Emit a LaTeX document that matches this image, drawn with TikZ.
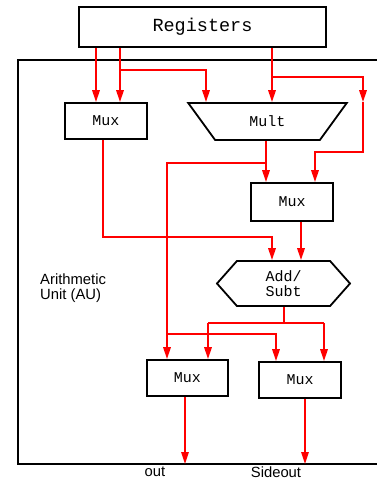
\documentclass[tikz,border=0pt]{standalone}
\usepackage{fontspec}
\newfontfamily\monof{Liberation Mono}
\newfontfamily\sansf{Liberation Sans}
\usetikzlibrary{arrows.meta,shapes.geometric,shapes.symbols}
\tikzset{
  unit/.style={draw=black, line width=1.8pt, fill=white, inner sep=0pt,
    font=\monof\fontsize{15}{15}\selectfont},
  muxbox/.style={unit, rectangle, minimum width=82pt, minimum height=36pt},
  wire/.style={draw=red, line width=1.6pt},
  feed/.style={wire, -{Triangle[length=12pt,width=7.5pt]}},
  frame/.style={draw=black, line width=1.8pt},
  lbl/.style={font=\sansf\fontsize{14.8}{14.5}\selectfont, inner sep=0pt}
}
\begin{document}
\begin{tikzpicture}[x=1pt,y=-1pt]
\useasboundingbox (0,0) rectangle (376,482);

% enclosing frame of the arithmetic unit (open on the right)
\draw[frame] (377,60) -- (18,60) -- (18,464) -- (377,464);

% blocks
\node[unit, rectangle, minimum width=247pt, minimum height=40pt,
      font=\monof\fontsize{18.5}{18.5}\selectfont] (reg) at (202.5,27) {Registers};
\node[muxbox] (mux1) at (106,121) {Mux};
\node[unit, trapezium, shape border rotate=180, trapezium left angle=50,
      trapezium right angle=50, trapezium stretches=true,
      minimum width=159pt, minimum height=37pt] (mult) at (267.5,121.5) {Mult};
\node[muxbox, minimum height=38pt] (mux2) at (292,202) {Mux};
\node[unit, signal, signal to=west and east, signal pointer angle=97,
      minimum width=133pt, minimum height=45pt, align=center] (add) at (283.5,283.5) {Add/\\Subt};
\node[muxbox, minimum width=81pt] (mux3) at (187.5,378) {Mux};
\node[muxbox] (mux4) at (300,380) {Mux};

% labels
\node[lbl, anchor=west, align=left] (au) at (40,288) {Arithmetic\\Unit (AU)};
\node[lbl] (outl) at (155,472) {out};
\node[lbl] (sidel) at (276,472) {Sideout};

% wire columns and rows
\coordinate (xa) at (96,0);   \coordinate (xb) at (120,0);
\coordinate (xc) at (206,0);  \coordinate (xd) at (272,0);
\coordinate (xe) at (363,0);  \coordinate (xf) at (315,0);
\coordinate (xg) at (103,0);  \coordinate (xh) at (301,0);
\coordinate (xk) at (167,0);  \coordinate (xm) at (208,0);
\coordinate (xn) at (324,0);  \coordinate (xp) at (276,0);
\coordinate (xq) at (284,0);  \coordinate (xr) at (185,0);
\coordinate (xs) at (305,0);  \coordinate (xo) at (266,0);
\coordinate (r70) at (0,70);   \coordinate (r77) at (0,77);
\coordinate (r152) at (0,152); \coordinate (r163) at (0,163);
\coordinate (r237) at (0,237); \coordinate (r323) at (0,323);
\coordinate (r334) at (0,334); \coordinate (rbot) at (0,464);

% registers to first stage
\draw[feed] (xa |- reg.south) -- (xa |- mux1.north);
\draw[feed] (xb |- reg.south) -- (xb |- mux1.north);
\draw[feed] (xb |- r70) -- (xc |- r70) -- (xc |- mult.north);
\draw[feed] (xd |- reg.south) -- (xd |- mult.north);
\draw[feed] (xd |- r77) -- (xe |- r77) -- (xe |- mult.north);
\draw[feed] (xe |- mult.north) -- (xe |- r152) -- (xf |- r152) -- (xf |- mux2.north);

% multiplier outputs
\draw[feed] (xo |- mult.south) -- (xo |- mux2.north);
\draw[feed] (xo |- r163) -- (xk |- r163) -- (xk |- mux3.north);

% into the adder
\draw[feed] (xg |- mux1.south) -- (xg |- r237) -- (xd |- r237) -- (xd |- add.north);
\draw[feed] (xh |- mux2.south) -- (xh |- add.north);

% adder outputs
\draw[wire] (xq |- add.south) -- (xq |- r323);
\draw[wire] (xm |- r323) -- (xn |- r323);
\draw[feed] (xm |- r323) -- (xm |- mux3.north);
\draw[feed] (xn |- r323) -- (xn |- mux4.north);
\draw[feed] (xk |- r334) -- (xp |- r334) -- (xp |- mux4.north);

% unit outputs
\draw[feed] (xr |- mux3.south) -- (xr |- rbot);
\draw[feed] (xs |- mux4.south) -- (xs |- rbot);
\end{tikzpicture}
\end{document}
